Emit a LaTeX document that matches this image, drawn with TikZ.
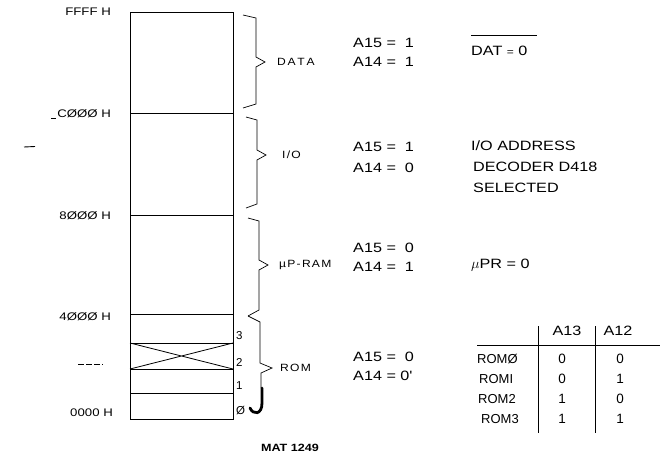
\documentclass[tikz,border=0pt]{standalone}
\usepackage{fontspec}
\setmainfont{Liberation Sans}
\newfontfamily\wide[FakeStretch=1.2]{Liberation Sans}
\newfontfamily\widesp[FakeStretch=1.15,LetterSpace=12]{Liberation Sans}
\begin{document}
\begin{tikzpicture}[x=1pt,y=-1pt,
  lbl/.style={font=\wide\fontsize{13.5}{15}\selectfont, anchor=west, inner sep=0pt},
  addr/.style={font=\wide\fontsize{11}{13}\selectfont, anchor=east, inner sep=0pt},
  area/.style={font=\widesp\fontsize{10.5}{12}\selectfont, anchor=west, inner sep=0pt},
  num/.style={font=\fontsize{11.5}{13}\selectfont, anchor=west, inner sep=0pt},
  thead/.style={font=\wide\fontsize{13.5}{15}\selectfont, inner sep=0pt},
  trow/.style={font=\fontsize{13}{15}\selectfont, anchor=west, inner sep=0pt},
  tval/.style={font=\fontsize{13.5}{15}\selectfont, inner sep=0pt},
  memline/.style={line width=0.8pt},
  brace/.style={line width=0.7pt, line join=miter},
  hook/.style={line width=2.8pt, line cap=round},
  stray/.style={line width=0.9pt}]
\useasboundingbox (0,0) rectangle (660,458);

% memory column
\draw[memline] (130,12) rectangle (233,419);
\foreach \yy in {113,215,314,343,369,393} \draw[memline] (130,\yy) -- (233,\yy);
\draw[memline] (130,343) -- (233,369) (130,369) -- (233,343);

% address labels
\node[addr] (ffff) at (111,12) {FFFF H};
\node[addr] (c000) at (111,114) {CØØØ H};
\node[addr] (h8000) at (111,216) {8ØØØ H};
\node[addr] (h4000) at (111,317) {4ØØØ H};
\node[addr] (h0000) at (113,413) {0000 H};

% stray marks of the original
\draw[stray] (c000.south west) ++(-6,0) -- ++(5,0);
\draw[stray] (24,147) -- (35,146.5);
\draw[stray, line width=0.6pt, dash pattern=on 6pt off 2pt] (78,364) -- (103,364);

% ROM slot numbers
\node[num] (n3) at (236,336) {3};
\node[num] (n2) at (236,362) {2};
\node[num] (n1) at (236,386) {1};
\node[num] (n0) at (236,411) {Ø};

% braces
\draw[brace] (243,15) -- (256,18) -- (256,57) -- (265,62) -- (256,67) -- (256,104) -- (243,108);
\draw[brace] (246,117) -- (257,120) -- (257,150) -- (266,155) -- (257,160) -- (257,204) -- (246,208);
\draw[brace] (248,218) -- (259,221) -- (259,260) -- (268,265) -- (259,270) -- (259,310) -- (248,316);
\draw[brace] (248,316) -- (260,322) -- (260,363) -- (272,368) -- (261,373) -- (261,388);
\draw[hook] (262,388) -- (262,403) .. controls (262,415) and (253,415) .. (250,408);

% area names
\node[area] (data) at (277,62) {D\,A\,T\,A};
\node[area] (io) at (282,155) {I/O};
\node[area] (ram) at (279,265) {µP-RAM};
\node[area] (rom) at (280,368) {ROM};

% address conditions
\node[lbl] (d15) at (353,43) {A15 = \ 1};
\node[lbl] (d14) at (353,62) {A14 = \ 1};
\node[lbl] (i15) at (353,147) {A15 = \ 1};
\node[lbl] (i14) at (353,168) {A14 = \ 0};
\node[lbl] (r15) at (353,248) {A15 = \ 0};
\node[lbl] (r14) at (353,267) {A14 = \ 1};
\node[lbl] (o15) at (353,357) {A15 = \ 0};
\node[lbl] (o14) at (353,376) {A14 = 0'};

% results
\node[lbl] (dat) at (471,51) {DAT {\fontsize{10}{12}\selectfont =} 0};
\path (dat.west) ++(0,-16) coordinate (ovl);
\draw[line width=0.8pt] (ovl) -- ++(66,0);
\node[lbl] (ioa) at (471,146) {I/O ADDRESS};
\node[lbl] (iob) at (473,167) {DECODER D418};
\node[lbl] (ioc) at (473,188) {SELECTED};
\node[lbl] (upr) at (471,265) {\(\mu\)PR = 0};

% table
\node[thead] (a13) at (567,331) {A13};
\node[thead] (a12) at (618,331) {A12};
\draw[line width=1pt] (477,345) -- (660,345);
\draw[line width=0.7pt] (538,326) -- (538,433);
\draw[line width=0.7pt] (595,326) -- (595,433);
\node[trow] (rom0) at (477,359) {ROMØ};
\node[trow] (rom1) at (479,379) {ROMI};
\node[trow] (rom2) at (478,399) {ROM2};
\node[trow] (rom3) at (481,419) {ROM3};
\node[tval] (v01) at (562,359) {0};
\node[tval] (v02) at (620,359) {0};
\node[tval] (v11) at (562,379) {0};
\node[tval] (v12) at (620,379) {1};
\node[tval] (v21) at (562,399) {1};
\node[tval] (v22) at (620,399) {0};
\node[tval] (v31) at (562,419) {1};
\node[tval] (v32) at (620,419) {1};

% figure code
\node[font=\wide\bfseries\fontsize{10.5}{12}\selectfont, inner sep=0pt] (mat) at (290,448) {MAT 1249};
\end{tikzpicture}
\end{document}
